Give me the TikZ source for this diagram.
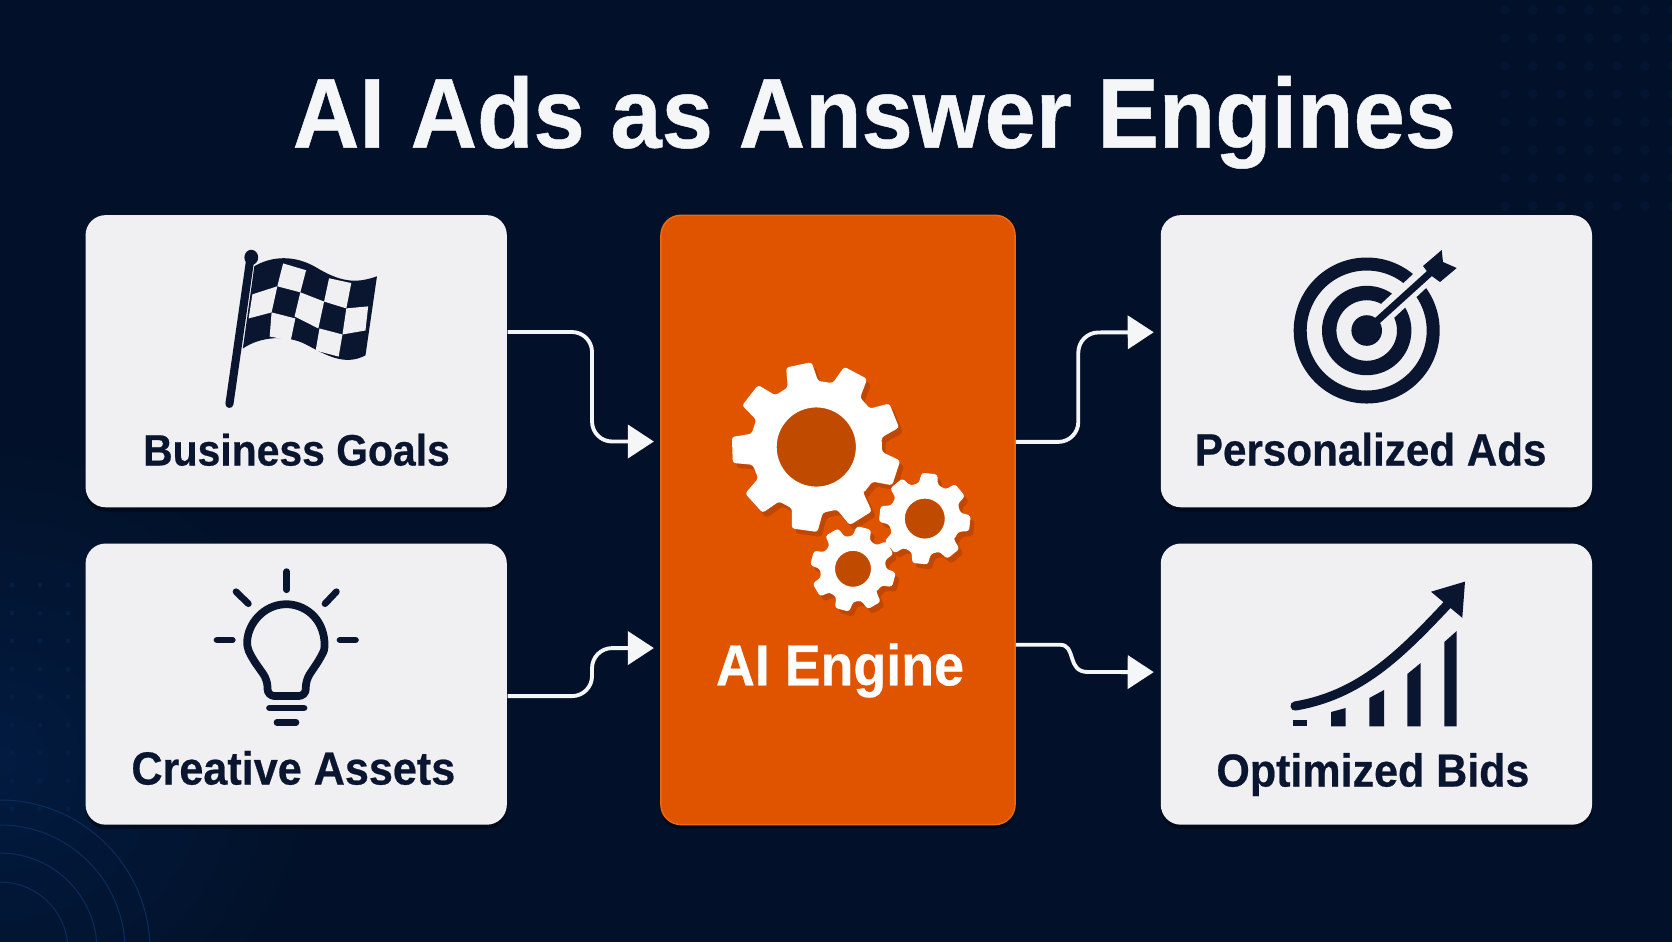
\documentclass[tikz,border=0pt]{standalone}
\usepackage{fontspec}
\setmainfont{Liberation Sans}[FakeStretch=0.93,BoldFeatures={FakeBold=0.5}]
\usetikzlibrary{positioning}
\usetikzlibrary{shadows}
\usetikzlibrary{arrows.meta}
\usetikzlibrary{calc}

\definecolor{night}{HTML}{021129}
\definecolor{nightglow}{HTML}{021B40}
\definecolor{nightdot}{HTML}{031533}
\definecolor{ringblue}{HTML}{0A2C5A}
\definecolor{ink}{HTML}{0A1630}
\definecolor{paper}{HTML}{F0F0F3}
\definecolor{flame}{HTML}{E05400}
\definecolor{flamerim}{HTML}{EC6A12}
\definecolor{flamedark}{HTML}{C04A00}
\definecolor{flameshade}{HTML}{8A3000}
\definecolor{snow}{HTML}{F5F6F8}

\newcommand{\gearwheel}[6]{%
\begin{scope}[shift={#1}]
\fill[flameshade,opacity=.35,even odd rule,rounded corners=.8pt,shift={(4,5)}] ({#5+(1-.34)*360/#4}:#3)
	\foreach \k in {1,...,#4} {
	-- ({#5+(\k-.34)*360/#4}:#3) -- ({#5+(\k-.22)*360/#4}:#2)
	-- ({#5+(\k+.22)*360/#4}:#2) -- ({#5+(\k+.34)*360/#4}:#3) } -- cycle
	(0,0) circle[radius=#6];
\fill[flamedark] (0,0) circle[radius=#6];
\fill[white,even odd rule,rounded corners=.8pt] ({#5+(1-.34)*360/#4}:#3)
	\foreach \k in {1,...,#4} {
	-- ({#5+(\k-.34)*360/#4}:#3) -- ({#5+(\k-.22)*360/#4}:#2)
	-- ({#5+(\k+.22)*360/#4}:#2) -- ({#5+(\k+.34)*360/#4}:#3) } -- cycle
	(0,0) circle[radius=#6];
\end{scope}}

\begin{document}
\begin{tikzpicture}
[x=.01cm,y=-.01cm,
 card/.style={shape=rectangle,fill=paper,rounded corners=5.7pt,minimum width=4.21cm,
	drop shadow={shadow xshift=0pt,shadow yshift=-1.2pt,fill=black,opacity=.4}},
 engine/.style={shape=rectangle,fill=flame,draw=flamerim,line width=.4pt,rounded corners=5.7pt,
	minimum width=3.54cm,minimum height=6.09cm,
	drop shadow={shadow xshift=0pt,shadow yshift=-1.2pt,fill=black,opacity=.4}},
 cardtext/.style={anchor=base,text=ink,font=\fontsize{#1}{15}\selectfont\bfseries},
 flow/.style={draw=snow,line width=1.1pt,rounded corners=5.7pt,shorten >=1.8pt,
	-{Triangle[length=7.4pt,width=9.4pt]}},
 icon/.style={draw=ink,line width=2.2pt,line cap=round},
 ray/.style={draw=ink,line width=1.9pt,line cap=round},
 dot/.style={fill=nightdot}]

\useasboundingbox (0,0) rectangle (1672,941);
\fill[night] (-5,-5) rectangle (1677,946);

\begin{scope}
\clip (-5,-5) rectangle (1677,946);
\shade[inner color=nightglow,outer color=night] (0,760) circle[radius=320];
\foreach \i in {0,...,2}
	\foreach \j in {0,...,8}
		\fill[nightglow!75!ringblue] (12+\i*28,585+\j*28) circle[radius=2.5];
\foreach \i in {0,...,6}
	\foreach \j in {0,...,7}
		\fill[dot] (1505+\i*28,10+\j*28) circle[radius=5];
\foreach \r in {68,97,125,150}
	\draw[ringblue,line width=.3pt] (0,950) circle[radius=\r];
\end{scope}

\draw (874.5,147.7) node (title) [anchor=base,text=snow,font=\fontsize{28.2}{32}\selectfont\bfseries] {AI Ads as Answer Engines};

\draw (296.2,361.2) node (goals) [card,minimum height=2.92cm] {};
\draw (296.2,684.1) node (assets) [card,minimum height=2.81cm] {};
\draw (838,519.9) node (core) [engine] {};
\draw (1376.4,361.2) node (ads) [card,minimum width=4.31cm,minimum height=2.92cm] {};
\draw (1376.4,684.1) node (bids) [card,minimum width=4.31cm,minimum height=2.81cm] {};

\draw (296.5,465.5) node (goalstext) [cardtext=12.5] {Business Goals};
\draw (293.4,784.5) node (assetstext) [cardtext=13.2] {Creative Assets};
\draw (840,685.3) node (coretext) [anchor=base,text=white,font=\fontsize{16.45}{20}\selectfont\bfseries] {AI Engine};
\draw (1370.7,465.5) node (adstext) [cardtext=12.9] {Personalized Ads};
\draw (1372.9,786.5) node (bidstext) [cardtext=13.15] {Optimized Bids};

\draw[flow] ($(goals.east)+(0,-29.2)$) -- ++(84.5,0) -- ++(0,109.5) -- ($(core.west)+(0,-78.4)$);
\draw[flow] ($(assets.east)+(0,12)$) -- ++(84.5,0) -- ++(0,-48) -- ($(core.west)+(0,128.1)$);
\draw[flow] ($(core.east)+(0,-78)$) -- ++(62.5,0) -- ++(0,-109.4) -- ($(ads.west)+(0,-29)$);
\draw[flow,sharp corners] ($(core.east)+(0,124.8)$) -- ++(44,0) .. controls (1077,644.7) and (1066,672) .. (1088,672) -- ($(bids.west)+(0,-12)$);

\gearwheel{(816.3,447)}{85}{66}{9}{18}{39.6}
\gearwheel{(924.8,518.6)}{46}{36}{8}{6}{20}
\gearwheel{(853,568.8)}{43}{33}{8}{15}{18}

\begin{scope}[shift={(80,210)},x=.003827cm,y=-.004018cm]
\draw[ink,line width=2.3pt,line cap=round] (445,118) -- (390,483);
\fill[ink] (447,118) circle[x radius=18,y radius=19];
\fill[ink] (455,140) .. controls (500,115) and (560,110) .. (620,145)
	.. controls (690,185) and (730,180) .. (775,165) -- (745,362)
	.. controls (690,390) and (640,360) .. (590,335)
	.. controls (540,310) and (470,315) .. (425,345) -- cycle;
\fill[paper] (530,133) -- (590,150) -- (575,205) -- (515,190) -- cycle;
\fill[paper] (650,170) -- (708,182) -- (695,245) -- (637,228) -- cycle;
\fill[paper] (450,210) -- (515,190) -- (500,255) -- (440,270) -- cycle;
\fill[paper] (575,205) -- (637,228) -- (622,295) -- (560,265) -- cycle;
\fill[paper] (695,245) -- (752,240) -- (745,300) -- (685,310) -- cycle;
\fill[paper] (500,255) -- (562,270) -- (550,325) -- (495,315) -- cycle;
\fill[paper] (625,295) -- (685,310) -- (675,365) -- (615,350) -- cycle;
\end{scope}

\draw[icon,line join=round,rounded corners=2pt] (252,658) arc[start angle=155,end angle=385,radius=37.8]
	-- (305.8,680) -- (305.8,696) -- (267.5,696) -- (267.5,680) -- cycle;
\draw[ray] (269.5,708) -- (304,708);
\draw[ray] (277,722.3) -- (296,722.3);
\draw[ray] (286.7,571.6) -- (286.7,589.7);
\draw[ray] (236,591.7) -- (248.4,603.7);
\draw[ray] (336.4,591.7) -- (325,603.7);
\draw[ray] (217,640) -- (232.3,640);
\draw[ray] (340,640) -- (355.5,640);

\draw[ink,line width=3.7pt] (1366.7,330.5) circle[radius=66.5];
\draw[ink,line width=4.1pt] (1366.7,330.5) circle[radius=37.5];
\fill[ink] (1366.7,330.5) circle[radius=15.3];
\draw[paper,line width=5.4pt] (1381,317) -- (1440,262);
\draw[ink,line width=2pt] (1372,325.5) -- (1430,273);
\fill[ink] (1423,266) -- (1441.7,250) -- (1443,262) -- (1456.7,268) -- (1440,282) -- (1429,274) -- cycle;

\fill[ink] (1292.7,720) -- (1307.3,720) -- (1307.3,726.3) -- (1292.7,726.3) -- cycle;
\fill[ink] (1331,712) -- (1345.7,708) -- (1345.7,726.3) -- (1331,726.3) -- cycle;
\fill[ink] (1369.3,698) -- (1384,690) -- (1384,726.3) -- (1369.3,726.3) -- cycle;
\fill[ink] (1407.3,674) -- (1420.7,663) -- (1420.7,726.3) -- (1407.3,726.3) -- cycle;
\fill[ink] (1444.3,642) -- (1456.7,631) -- (1456.7,726.3) -- (1444.3,726.3) -- cycle;
\draw[ink,line width=2.6pt,line cap=round] (1295,706) .. controls (1360,695) and (1400,655) .. (1448,604);
\fill[ink] (1465,581.6) -- (1431,591.7) -- (1462.3,617.8) -- cycle;

\end{tikzpicture}
\end{document}
